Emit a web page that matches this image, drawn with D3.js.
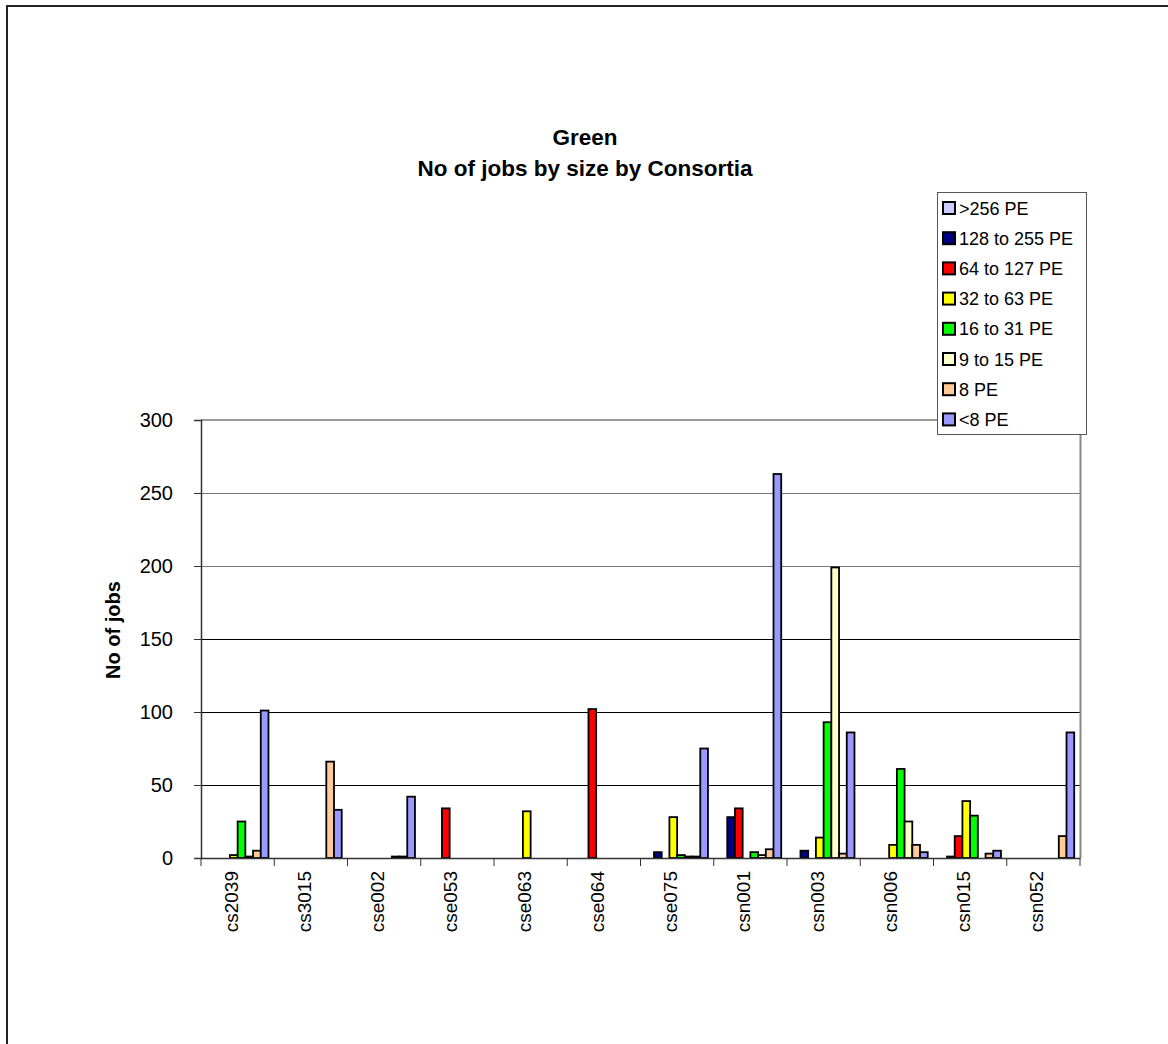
<!DOCTYPE html>
<html>
<head>
<meta charset="utf-8">
<script src="https://cdn.jsdelivr.net/npm/d3@7"></script>
<style>
  html, body { margin: 0; padding: 0; background: #fff; }
  svg { display: block; font-family: Arial, "Liberation Sans", sans-serif; }
</style>
</head>
<body>
<svg id="chart" width="1168" height="1044"></svg>
<script>
// Consortia on the x axis
const categories = ["cs2039", "cs3015", "cse002", "cse053", "cse063", "cse064",
                    "cse075", "csn001", "csn003", "csn006", "csn015", "csn052"];

// Job-size series, in legend order
const seriesNames = [">256 PE", "128 to 255 PE", "64 to 127 PE", "32 to 63 PE",
                     "16 to 31 PE", "9 to 15 PE", "8 PE", "<8 PE"];
const seriesColors = ["#CCCCFF", "#000080", "#FF0000", "#FFFF00",
                      "#00FF00", "#FFFFCC", "#FFCC99", "#9999FF"];

// Number of jobs per consortium, one array per series
const pe256plus = [0, 0, 0, 0, 0, 0, 0, 0, 0, 0, 0, 0];
const pe128to255 = [0, 0, 0, 0, 0, 0, 4, 28, 5, 0, 1, 0];
const pe64to127 = [0, 0, 0, 34, 0, 102, 0, 34, 0, 0, 15, 0];
const pe32to63 = [2, 0, 0, 0, 32, 0, 28, 0, 14, 9, 39, 0];
const pe16to31 = [25, 0, 0, 0, 0, 0, 2, 4, 93, 61, 29, 0];
const pe9to15 = [1, 0, 1, 0, 0, 0, 1, 2, 199, 25, 0, 0];
const pe8 = [5, 66, 1, 0, 0, 0, 1, 6, 3, 9, 3, 15];
const peUnder8 = [101, 33, 42, 0, 0, 0, 75, 263, 86, 4, 5, 86];

const seriesValues = [pe256plus, pe128to255, pe64to127, pe32to63,
                      pe16to31, pe9to15, pe8, peUnder8];

const yTicks = [0, 50, 100, 150, 200, 250, 300];

const svg = d3.select("#chart");

// Outer chart frame
svg.append("rect")
  .attr("x", 7).attr("y", 6)
  .attr("width", 1200).attr("height", 1100)
  .attr("fill", "none").attr("stroke", "#222").attr("stroke-width", 2);

// Titles
svg.append("text").attr("x", 585).attr("y", 145)
  .attr("text-anchor", "middle").attr("font-size", 22.5).attr("font-weight", "bold")
  .text("Green");
svg.append("text").attr("x", 585).attr("y", 176)
  .attr("text-anchor", "middle").attr("font-size", 22.5).attr("font-weight", "bold")
  .text("No of jobs by size by Consortia");

const plot = { left: 201, right: 1080, top: 420, bottom: 858 };

const x0 = d3.scaleBand().domain(categories)
  .range([plot.left, plot.right]).paddingInner(0).paddingOuter(0);
const gap = 1.5; // gap between groups, in bar widths
const barW = x0.bandwidth() / (seriesNames.length + gap);
const x1 = d3.scaleBand().domain(d3.range(seriesNames.length))
  .range([barW * gap / 2, barW * gap / 2 + barW * seriesNames.length]);

const y = d3.scaleLinear().domain([0, 300]).range([plot.bottom, plot.top]);

// Gridlines
svg.append("g").selectAll("line").data(yTicks.filter(d => d > 0)).join("line")
  .attr("x1", plot.left).attr("x2", plot.right)
  .attr("y1", d => Math.round(y(d)) + 0.5).attr("y2", d => Math.round(y(d)) + 0.5)
  .attr("stroke", d => d >= 200 ? "#777" : "#000").attr("stroke-width", 1);

// Plot area border (right edge, top)
svg.append("line")
  .attr("x1", plot.right + 0.5).attr("x2", plot.right + 0.5)
  .attr("y1", plot.top).attr("y2", plot.bottom)
  .attr("stroke", "#888").attr("stroke-width", 2);
svg.append("line")
  .attr("x1", plot.left).attr("x2", plot.right)
  .attr("y1", plot.top).attr("y2", plot.top)
  .attr("stroke", "#999").attr("stroke-width", 2);

// Bars (zero values are not drawn)
const groups = svg.append("g").selectAll("g").data(categories).join("g")
  .attr("transform", d => `translate(${x0(d)},0)`);
groups.selectAll("rect")
  .data((c, i) => seriesValues.map((vals, s) => ({ s, v: vals[i] })).filter(d => d.v > 0))
  .join("rect")
  .attr("x", d => x1(d.s))
  .attr("width", barW)
  .attr("y", d => y(d.v))
  .attr("height", d => y(0) - y(d.v))
  .attr("fill", d => seriesColors[d.s])
  .attr("stroke", "#000").attr("stroke-width", 1.8);

// Y axis
const yAxis = d3.axisLeft(y).tickValues(yTicks).tickSize(7).tickPadding(21);
const yg = svg.append("g").attr("transform", `translate(${plot.left},0)`).call(yAxis);
yg.select(".domain").attr("stroke", "#333").attr("stroke-width", 1.5);
yg.selectAll(".tick line").attr("stroke", "#333");
yg.selectAll(".tick text").attr("font-size", 20).attr("fill", "#000")
  .attr("font-family", "Arial, 'Liberation Sans', sans-serif");

// X axis line and category separators
const xAxis = d3.axisBottom(x0).tickSize(0).tickFormat("");
const xg = svg.append("g").attr("transform", `translate(0,${plot.bottom})`).call(xAxis);
xg.select(".domain").attr("stroke", "#333").attr("stroke-width", 1.5);
xg.selectAll(".tick").remove();
svg.append("g").selectAll("line")
  .data(categories.map(c => x0(c)).concat([plot.right]))
  .join("line")
  .attr("x1", d => d).attr("x2", d => d)
  .attr("y1", plot.bottom).attr("y2", plot.bottom + 8)
  .attr("stroke", "#333");
svg.append("g").selectAll("text").data(categories).join("text")
  .attr("transform", d => `translate(${x0(d) + x0.bandwidth() / 2},${plot.bottom + 13}) rotate(-90)`)
  .attr("text-anchor", "end")
  .attr("font-size", 19)
  .text(d => d);

// Y axis title
svg.append("text")
  .attr("transform", `translate(120,630) rotate(-90)`)
  .attr("text-anchor", "middle").attr("font-size", 20).attr("font-weight", "bold")
  .text("No of jobs");

// Legend
const lg = svg.append("g").attr("transform", "translate(937,192)");
lg.append("rect").attr("x", 0.5).attr("y", 0.5).attr("width", 149).attr("height", 242)
  .attr("fill", "#fff").attr("stroke", "#555").attr("stroke-width", 1);
const items = lg.selectAll("g").data(seriesNames).join("g")
  .attr("transform", (d, i) => `translate(6,${16 + i * 30.2})`);
items.append("rect").attr("x", 0).attr("y", -6).attr("width", 12).attr("height", 12)
  .attr("fill", (d, i) => seriesColors[i]).attr("stroke", "#000").attr("stroke-width", 2);
items.append("text").attr("x", 16).attr("y", 6.5).attr("font-size", 18)
  .text(d => d);
</script>
</body>
</html>
